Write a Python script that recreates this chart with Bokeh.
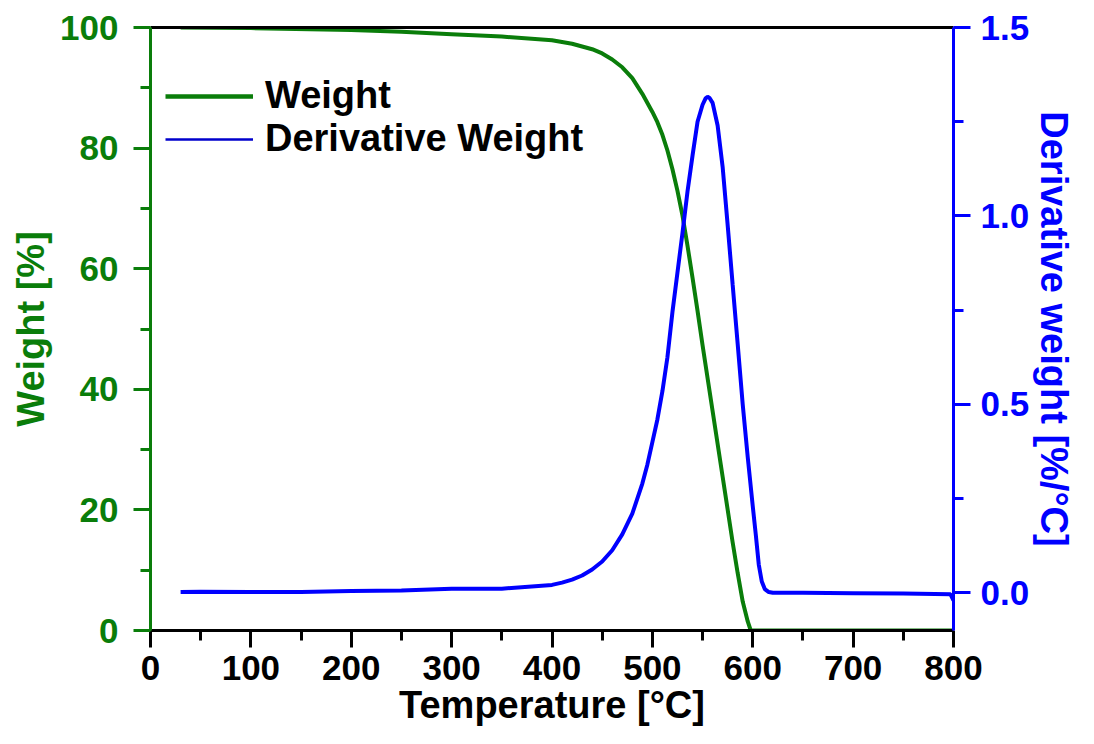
from bokeh.plotting import figure
from bokeh.models import (Range1d, LinearAxis, FixedTicker, NumeralTickFormatter,
                          Legend, LegendItem, ColumnDataSource)
from bokeh.embed import file_html
from bokeh.resources import INLINE

# ---- data ----
temp_w = [30, 100, 200, 250, 300, 350, 400, 420, 440, 450, 460, 470, 480, 490,
          500, 505, 510, 515, 520, 525, 530, 535, 540, 545, 550, 560, 570, 580,
          585, 590, 595, 598, 700, 800]
weight = [100.0, 99.9, 99.6, 99.3, 98.9, 98.5, 97.9, 97.3, 96.4, 95.7, 94.7, 93.4,
          91.6, 89.0, 86.0, 84.3, 82.2, 79.6, 76.5, 72.9, 68.8, 63.8, 58.5, 53.0,
          47.3, 36.4, 25.5, 14.6, 9.5, 4.8, 1.5, 0.0, 0.0, 0.0]

temp_d = [30, 50, 100, 150, 200, 250, 300, 350, 400, 410, 420, 430, 440, 450,
          460, 470, 480, 490, 495, 500, 505, 510, 515, 520, 525, 530, 535, 540,
          545, 550, 553, 555, 557, 560, 565, 570, 575, 580, 585, 590, 595, 600,
          603, 606, 609, 612, 616, 620, 650, 700, 750, 797, 800]
deriv = [0.002, 0.003, 0.002, 0.002, 0.005, 0.006, 0.011, 0.011, 0.021, 0.027,
         0.035, 0.046, 0.062, 0.083, 0.113, 0.155, 0.21, 0.29, 0.34, 0.40, 0.46,
         0.535, 0.625, 0.745, 0.85, 0.955, 1.065, 1.16, 1.25, 1.295, 1.312,
         1.316, 1.313, 1.30, 1.24, 1.13, 0.976, 0.817, 0.66, 0.50, 0.36, 0.23,
         0.155, 0.075, 0.03, 0.01, 0.002, 0.0, 0.0, -0.001, -0.002, -0.004, -0.02]

x_ticks = [0, 100, 200, 300, 400, 500, 600, 700, 800]
x_minor = [50, 150, 250, 350, 450, 550, 650, 750]
yl_ticks = [0, 20, 40, 60, 80, 100]
yl_minor = [10, 30, 50, 70, 90]
yr_ticks = [0.0, 0.5, 1.0, 1.5]
yr_minor = [0.25, 0.75, 1.25]

GREEN = "#0a7d0a"
BLUE = "#0000ff"
FONT = "Liberation Sans"

p = figure(width=1078, height=728, output_backend="svg", toolbar_location=None,
           x_range=Range1d(0, 800), y_range=Range1d(0, 100),
           min_border_left=150, min_border_top=27, min_border_right=125,
           min_border_bottom=98, x_axis_location=None, y_axis_location=None)
p.outline_line_color = None
p.xgrid.visible = False
p.ygrid.visible = False
p.extra_y_ranges = {"d": Range1d(-0.1, 1.5)}

def style(ax, color, tick_font="35px"):
    ax.axis_line_color = color
    ax.axis_line_width = 3
    ax.major_tick_line_color = color
    ax.major_tick_line_width = 3
    ax.minor_tick_line_color = color
    ax.minor_tick_line_width = 3
    ax.major_tick_out = 17
    ax.major_tick_in = 0
    ax.minor_tick_out = 10
    ax.minor_tick_in = 0
    ax.major_label_text_font = FONT
    ax.major_label_text_font_style = "bold"
    ax.major_label_text_font_size = tick_font
    ax.major_label_text_color = color
    ax.axis_label_text_font = FONT
    ax.axis_label_text_font_style = "bold"
    ax.axis_label_text_font_size = "38px"
    ax.axis_label_text_color = color

xaxis = LinearAxis(ticker=FixedTicker(ticks=x_ticks, minor_ticks=x_minor),
                   axis_label="Temperature [°C]")
style(xaxis, "black")
xaxis.major_label_standoff = 8
xaxis.axis_label_standoff = 1
p.add_layout(xaxis, "below")

yaxis = LinearAxis(ticker=FixedTicker(ticks=yl_ticks, minor_ticks=yl_minor),
                   axis_label="Weight [%]")
style(yaxis, GREEN)
yaxis.major_label_standoff = 15
yaxis.axis_label_standoff = 5
p.add_layout(yaxis, "left")

raxis = LinearAxis(y_range_name="d",
                   ticker=FixedTicker(ticks=yr_ticks, minor_ticks=yr_minor),
                   formatter=NumeralTickFormatter(format="0.0"),
                   axis_label="Derivative weight [%/°C]")
style(raxis, BLUE)
raxis.major_label_standoff = 10
raxis.axis_label_standoff = 1
p.add_layout(raxis, "right")

top = LinearAxis(ticker=FixedTicker(ticks=[]))
top.axis_line_color = "black"
top.axis_line_width = 3
top.major_tick_line_color = None
top.minor_tick_line_color = None
top.major_label_text_font_size = "0px"
p.add_layout(top, "above")

src_w = ColumnDataSource(dict(x=temp_w, y=weight))
src_d = ColumnDataSource(dict(x=temp_d, y=deriv))
rw = p.line("x", "y", source=src_w, line_color=GREEN, line_width=4)
rd = p.line("x", "y", source=src_d, line_color=BLUE, line_width=4, y_range_name="d")

# legend-only glyphs, kept outside the visible ranges
# (legend sample lines differ in thickness in the reference)
lw = p.line(x=[-200, -100], y=[-50, -50], line_color=GREEN, line_width=4.5)
ld = p.line(x=[-200, -100], y=[-50, -50], line_color="#0000cc", line_width=2.5)

legend = Legend(items=[LegendItem(label="Weight", renderers=[lw]),
                       LegendItem(label="Derivative Weight", renderers=[ld])],
                location=(15, 470))
legend.label_text_font = FONT
legend.label_text_font_style = "bold"
legend.label_text_font_size = "38px"
legend.label_text_color = "black"
legend.glyph_width = 88
legend.glyph_height = 42
legend.label_height = 42
legend.label_standoff = 12
legend.spacing = 0
legend.padding = 0
legend.margin = 0
legend.border_line_color = None
legend.background_fill_alpha = 0
p.add_layout(legend, "center")

open("out.html", "w").write(file_html(p, INLINE))
